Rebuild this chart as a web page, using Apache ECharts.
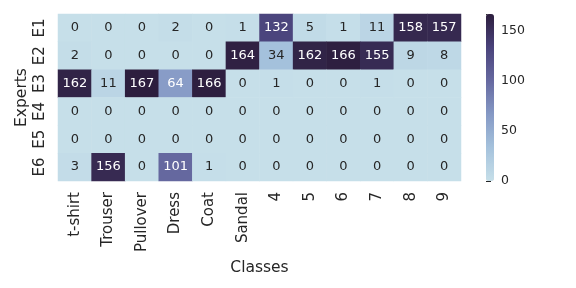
<!DOCTYPE html>
<html><head><meta charset="utf-8">
<script src="https://cdn.jsdelivr.net/npm/echarts@6/dist/echarts.min.js"></script>
<style>html,body{margin:0;padding:0;background:#fff}#c{width:576px;height:288px}</style>
</head><body><div id="c"></div>
<script>
const classes = ['t-shirt','Trouser','Pullover','Dress','Coat','Sandal','4','5','6','7','8','9'];
const experts = ['E1','E2','E3','E4','E5','E6'];
const E1 = [0,0,0,2,0,1,132,5,1,11,158,157];
const E2 = [2,0,0,0,0,164,34,162,166,155,9,8];
const E3 = [162,11,167,64,166,0,1,0,0,1,0,0];
const E4 = [0,0,0,0,0,0,0,0,0,0,0,0];
const E5 = [0,0,0,0,0,0,0,0,0,0,0,0];
const E6 = [3,156,0,101,1,0,0,0,0,0,0,0];
const rows = [E1,E2,E3,E4,E5,E6];
const vmax = 167;
const colorbarTicks = [0,50,100,150];

const data = [];
rows.forEach((r, yi) => r.forEach((v, xi) => {
  data.push({value:[xi, yi, v], label:{color: v > 55 ? '#ffffff' : '#262626'}});
}));

const font = 'DejaVu Sans';
const chart = echarts.init(document.getElementById('c'));
chart.setOption({
  animation:false,
  textStyle:{fontFamily:font},
  grid:[
    {left:58, top:14, width:403, height:167},
    {left:486, top:14, width:8, height:167}
  ],
  xAxis:[
    {type:'category', data:classes, gridIndex:0,
     axisLine:{show:false}, axisTick:{show:false}, splitLine:{show:false},
     axisLabel:{rotate:90, fontSize:15, color:'#262626', margin:11, fontFamily:font, interval:0},
     name:'Classes', nameLocation:'middle', nameGap:77,
     nameTextStyle:{fontSize:15.5, color:'#262626', fontFamily:font}},
    {type:'value', gridIndex:1, show:false, min:0, max:1}
  ],
  yAxis:[
    {type:'category', data:experts, inverse:true, gridIndex:0,
     axisLine:{show:false}, axisTick:{show:false}, splitLine:{show:false},
     axisLabel:{rotate:90, fontSize:15, color:'#262626', margin:10, fontFamily:font},
     name:'Experts', nameLocation:'middle', nameGap:28, nameRotate:90, nameMoveOverlap:false,
     nameTextStyle:{fontSize:15.5, color:'#262626', fontFamily:font}},
    {type:'value', gridIndex:1, min:0, max:vmax, interval:50, position:'right',
     axisLine:{show:false}, splitLine:{show:false},
     axisTick:{show:true, length:5, lineStyle:{color:'#262626', width:1}},
     axisLabel:{fontSize:12.5, color:'#262626', margin:7, fontFamily:font,
       customValues: colorbarTicks}}
  ],
  visualMap:{
    type:'continuous', min:0, max:vmax, dimension:2, seriesIndex:0,
    show:true, calculable:false, text:null, showLabel:false,
    left:486, top:14, itemWidth:8, itemHeight:167, padding:0,
    inRange:{color:['#c6dfe9','#a5c2dc','#8599c5','#6669a0','#4a437b','#2d1e3e']}
  },
  series:[{
    type:'heatmap', xAxisIndex:0, yAxisIndex:0, data:data,
    label:{show:true, fontSize:13, fontFamily:font},
    itemStyle:{borderWidth:0},
    emphasis:{disabled:true}
  }]
});
</script></body></html>
